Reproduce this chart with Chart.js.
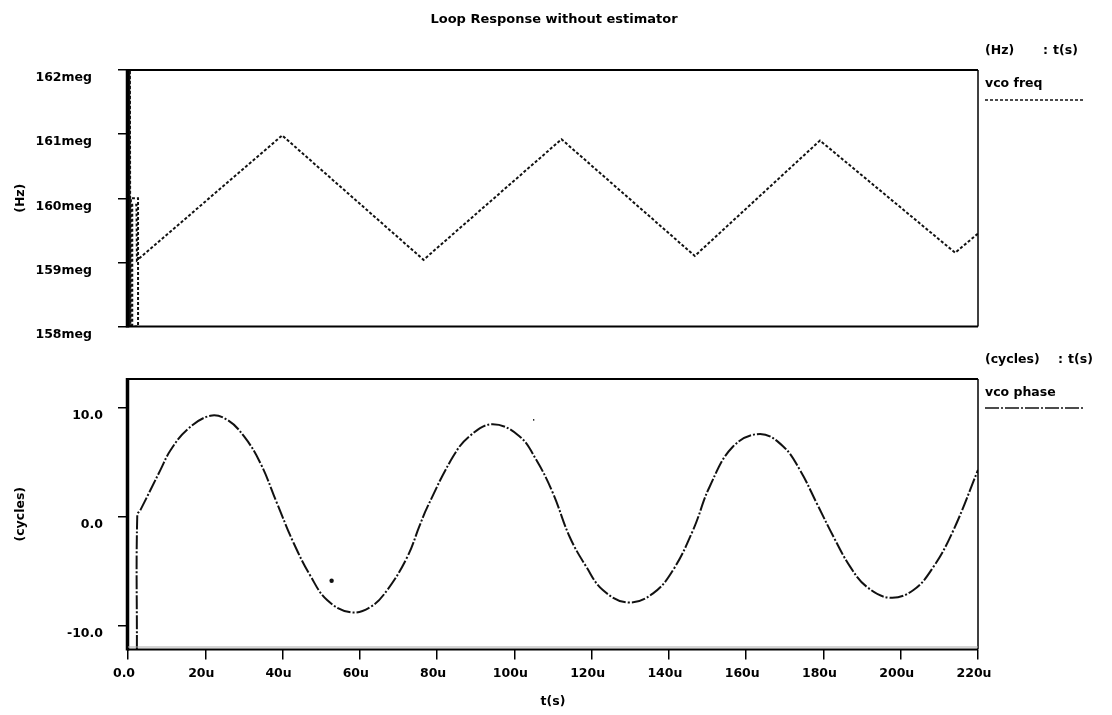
<!DOCTYPE html>
<html><head><meta charset="utf-8">
<script src="https://cdn.jsdelivr.net/npm/chart.js@4.4.1/dist/chart.umd.min.js"></script>
<style>
html,body{margin:0;padding:0;background:#fff;width:1112px;height:715px;overflow:hidden}
#c1{position:absolute;left:0;top:0}
#c2{position:absolute;left:0;top:330px}
</style></head><body>
<canvas id="c1" width="1112" height="360"></canvas>
<canvas id="c2" width="1112" height="385"></canvas>
<script>
// ---- data ----
const chartTitle = 'Loop Response without estimator';
const timeTicks = [0, 20, 40, 60, 80, 100, 120, 140, 160, 180, 200, 220];
const timeTickLabels = ['0.0', '20u', '40u', '60u', '80u', '100u', '120u', '140u', '160u', '180u', '200u', '220u'];
const freqTicks = [158, 159, 160, 161, 162];
const freqTickLabels = ['158meg', '159meg', '160meg', '161meg', '162meg'];
const phaseTicks = [-10, 0, 10];
const phaseTickLabels = ['-10.0', '0.0', '10.0'];

// vco freq (meg Hz) vs time (u s)
const freqTime   = [0, 0.1, 0.2, 0.3, 0.4, 0.5, 0.6, 0.75, 2.6, 2.6, 1.1, 1.1, 2.2, 2.3, 39.9, 76.5, 112.2, 146.7, 179.1, 214.1, 220];
const freqValues = [160, 162, 158, 162, 158, 162, 158, 160, 160, 158, 158, 159.9, 159.9, 159.03, 160.98, 159.04, 160.92, 159.1, 160.9, 159.15, 159.45];

// vco phase (cycles) vs time (u s)
const phaseTime   = [2.3, 2.4, 3.2, 8.4, 11, 15.3, 21.3, 25.7, 30, 34.3, 38.6, 42.9, 47.3, 51.6, 57.6, 62.8, 67.1, 72.3, 75.4, 77.5, 84.1, 88.4, 94.4, 101.3, 105.7, 110, 114.3, 118.6, 122.9, 129.4, 135.9, 141.1, 146.3, 150.6, 156.6, 163.6, 169.6, 173.9, 178.3, 182.6, 186.9, 191.2, 197.2, 203.3, 208.5, 213.7, 220];
const phaseValues = [-12.2, 0.15, 0.6, 4.3, 6.1, 8.0, 9.28, 8.9, 7.4, 4.9, 1.2, -2.45, -5.5, -7.7, -8.8, -8.3, -6.75, -3.7, -0.9, 0.9, 5.5, 7.4, 8.5, 7.4, 5.2, 2.15, -1.85, -4.6, -6.75, -7.9, -7.06, -4.9, -1.2, 2.8, 6.45, 7.6, 6.45, 4.3, 1.2, -1.85, -4.6, -6.45, -7.46, -6.75, -4.6, -1.2, 4.3];

// stray marks in the phase plot
const strayTime = [52.7, 105];
const strayValues = [-5.9, 8.9];

// ---- styles ----
const FONT = "'DejaVu Sans', 'Liberation Sans', sans-serif";
const tickFont = {family: FONT, weight: 'bold', size: 12.5};
const freqDash = [3, 2];
const phaseDash = [14, 2, 2, 2];

function pts(xs, ys) { return xs.map((x, i) => ({x, y: ys[i]})); }

function framePlugin(extraBottom) {
  return {
    id: 'frame',
    afterDatasetsDraw(chart) {
      const {ctx, chartArea: a} = chart;
      ctx.save();
      ctx.setLineDash([]);
      ctx.strokeStyle = '#000';
      ctx.lineWidth = 2;
      ctx.beginPath();
      ctx.moveTo(a.left, a.top); ctx.lineTo(a.right, a.top);
      ctx.moveTo(a.left, a.bottom); ctx.lineTo(a.right, a.bottom);
      ctx.stroke();
      ctx.lineWidth = 1.5;
      ctx.beginPath(); ctx.moveTo(a.right, a.top); ctx.lineTo(a.right, a.bottom); ctx.stroke();
      ctx.lineWidth = 3.5;
      ctx.beginPath(); ctx.moveTo(a.left - 0.5, a.top - 1); ctx.lineTo(a.left - 0.5, a.bottom + 1); ctx.stroke();
      if (extraBottom) {
        ctx.lineWidth = 1; ctx.strokeStyle = '#aaa';
        ctx.beginPath(); ctx.moveTo(a.left, a.bottom - 2.5); ctx.lineTo(a.right, a.bottom - 2.5); ctx.stroke();
      }
      ctx.restore();
    }
  };
}

function textPlugin(items, legend) {
  return {
    id: 'texts',
    afterDraw(chart) {
      const ctx = chart.ctx;
      ctx.save();
      ctx.fillStyle = '#000';
      ctx.textBaseline = 'middle';
      items.forEach(it => {
        ctx.font = 'bold ' + it.size + 'px ' + FONT;
        ctx.textAlign = it.align || 'left';
        ctx.fillText(it.text, it.x, it.y);
      });
      if (legend) {
        ctx.font = 'bold 12.5px ' + FONT;
        ctx.textAlign = 'left';
        ctx.fillText(legend.text, legend.x, legend.ty);
        ctx.strokeStyle = '#111';
        ctx.lineWidth = 1.5;
        ctx.setLineDash(legend.dash);
        ctx.beginPath(); ctx.moveTo(legend.x, legend.ly); ctx.lineTo(legend.x + 100, legend.ly); ctx.stroke();
      }
      ctx.restore();
    }
  };
}

const common = {
  responsive: false, animation: false, events: [],
  plugins: {legend: {display: false}, tooltip: {enabled: false}, title: {display: false}}
};

// ---- top chart: vco freq ----
new Chart(document.getElementById('c1'), {
  type: 'line',
  data: {datasets: [{
    label: 'vco freq', data: pts(freqTime, freqValues),
    borderColor: '#111', borderWidth: 2, borderDash: freqDash,
    pointRadius: 0, tension: 0, fill: false
  }]},
  options: Object.assign({}, common, {
    layout: {padding: {top: 70, bottom: 15, left: 0, right: 134}},
    scales: {
      x: {type: 'linear', min: 0, max: 220, display: false},
      y: {
        type: 'linear', min: 158, max: 162,
        afterFit: s => { s.width = 128; },
        afterBuildTicks: s => { s.ticks = freqTicks.map(v => ({value: v})); },
        ticks: {callback: (v, i) => freqTickLabels[i], color: '#000', font: tickFont, padding: 26, labelOffset: 8},
        grid: {drawOnChartArea: false, drawTicks: true, tickLength: 10, color: '#000', lineWidth: 1.5},
        border: {display: false},
        title: {display: true, text: '(Hz)', color: '#000', font: tickFont, padding: {top: 13, bottom: 0}}
      }
    }
  }),
  plugins: [framePlugin(false), textPlugin([
    {text: chartTitle, x: 554, y: 20, size: 13, align: 'center'},
    {text: '(Hz)', x: 985, y: 51, size: 12.5},
    {text: ':', x: 1043, y: 51, size: 12.5},
    {text: 't(s)', x: 1053, y: 51, size: 12.5}
  ], {text: 'vco freq', x: 985, ty: 84, ly: 100, dash: freqDash})]
});

// ---- bottom chart: vco phase ----
new Chart(document.getElementById('c2'), {
  type: 'line',
  data: {datasets: [{
    label: 'vco phase', data: pts(phaseTime, phaseValues),
    borderColor: '#111', borderWidth: 2, borderDash: phaseDash,
    pointRadius: 0, tension: 0.4, fill: false
  }, {
    label: 'marks', data: pts(strayTime, strayValues), showLine: false,
    pointRadius: [2.2, 0.8], pointBackgroundColor: '#111', pointBorderWidth: 0
  }]},
  options: Object.assign({}, common, {
    layout: {padding: {top: 49, bottom: 0, left: 0, right: 134}},
    scales: {
      x: {
        type: 'linear', min: 0, max: 220,
        afterFit: s => { s.height = 65.5; },
        afterBuildTicks: s => { s.ticks = timeTicks.map(v => ({value: v})); },
        ticks: {callback: (v, i) => timeTickLabels[i], color: '#000', font: tickFont, padding: 7, labelOffset: -4, maxRotation: 0, autoSkip: false},
        grid: {drawOnChartArea: false, drawTicks: true, tickLength: 10, color: '#000', lineWidth: 1.5},
        border: {display: false},
        title: {display: true, text: 't(s)', color: '#000', font: tickFont, padding: {top: 0, bottom: 6}}
      },
      y: {
        type: 'linear', min: -12.22, max: 12.66,
        afterFit: s => { s.width = 128; },
        afterBuildTicks: s => { s.ticks = phaseTicks.map(v => ({value: v})); },
        ticks: {callback: (v, i) => phaseTickLabels[i], color: '#000', font: tickFont, padding: 15, labelOffset: 8},
        grid: {drawOnChartArea: false, drawTicks: true, tickLength: 10, color: '#000', lineWidth: 1.5},
        border: {display: false},
        title: {display: true, text: '(cycles)', color: '#000', font: tickFont, padding: {top: 13, bottom: 0}}
      }
    }
  }),
  plugins: [framePlugin(true), textPlugin([
    {text: '(cycles)', x: 985, y: 30, size: 12.5},
    {text: ':', x: 1058, y: 30, size: 12.5},
    {text: 't(s)', x: 1068, y: 30, size: 12.5}
  ], {text: 'vco phase', x: 985, ty: 63, ly: 78, dash: phaseDash})]
});
</script>
</body></html>
